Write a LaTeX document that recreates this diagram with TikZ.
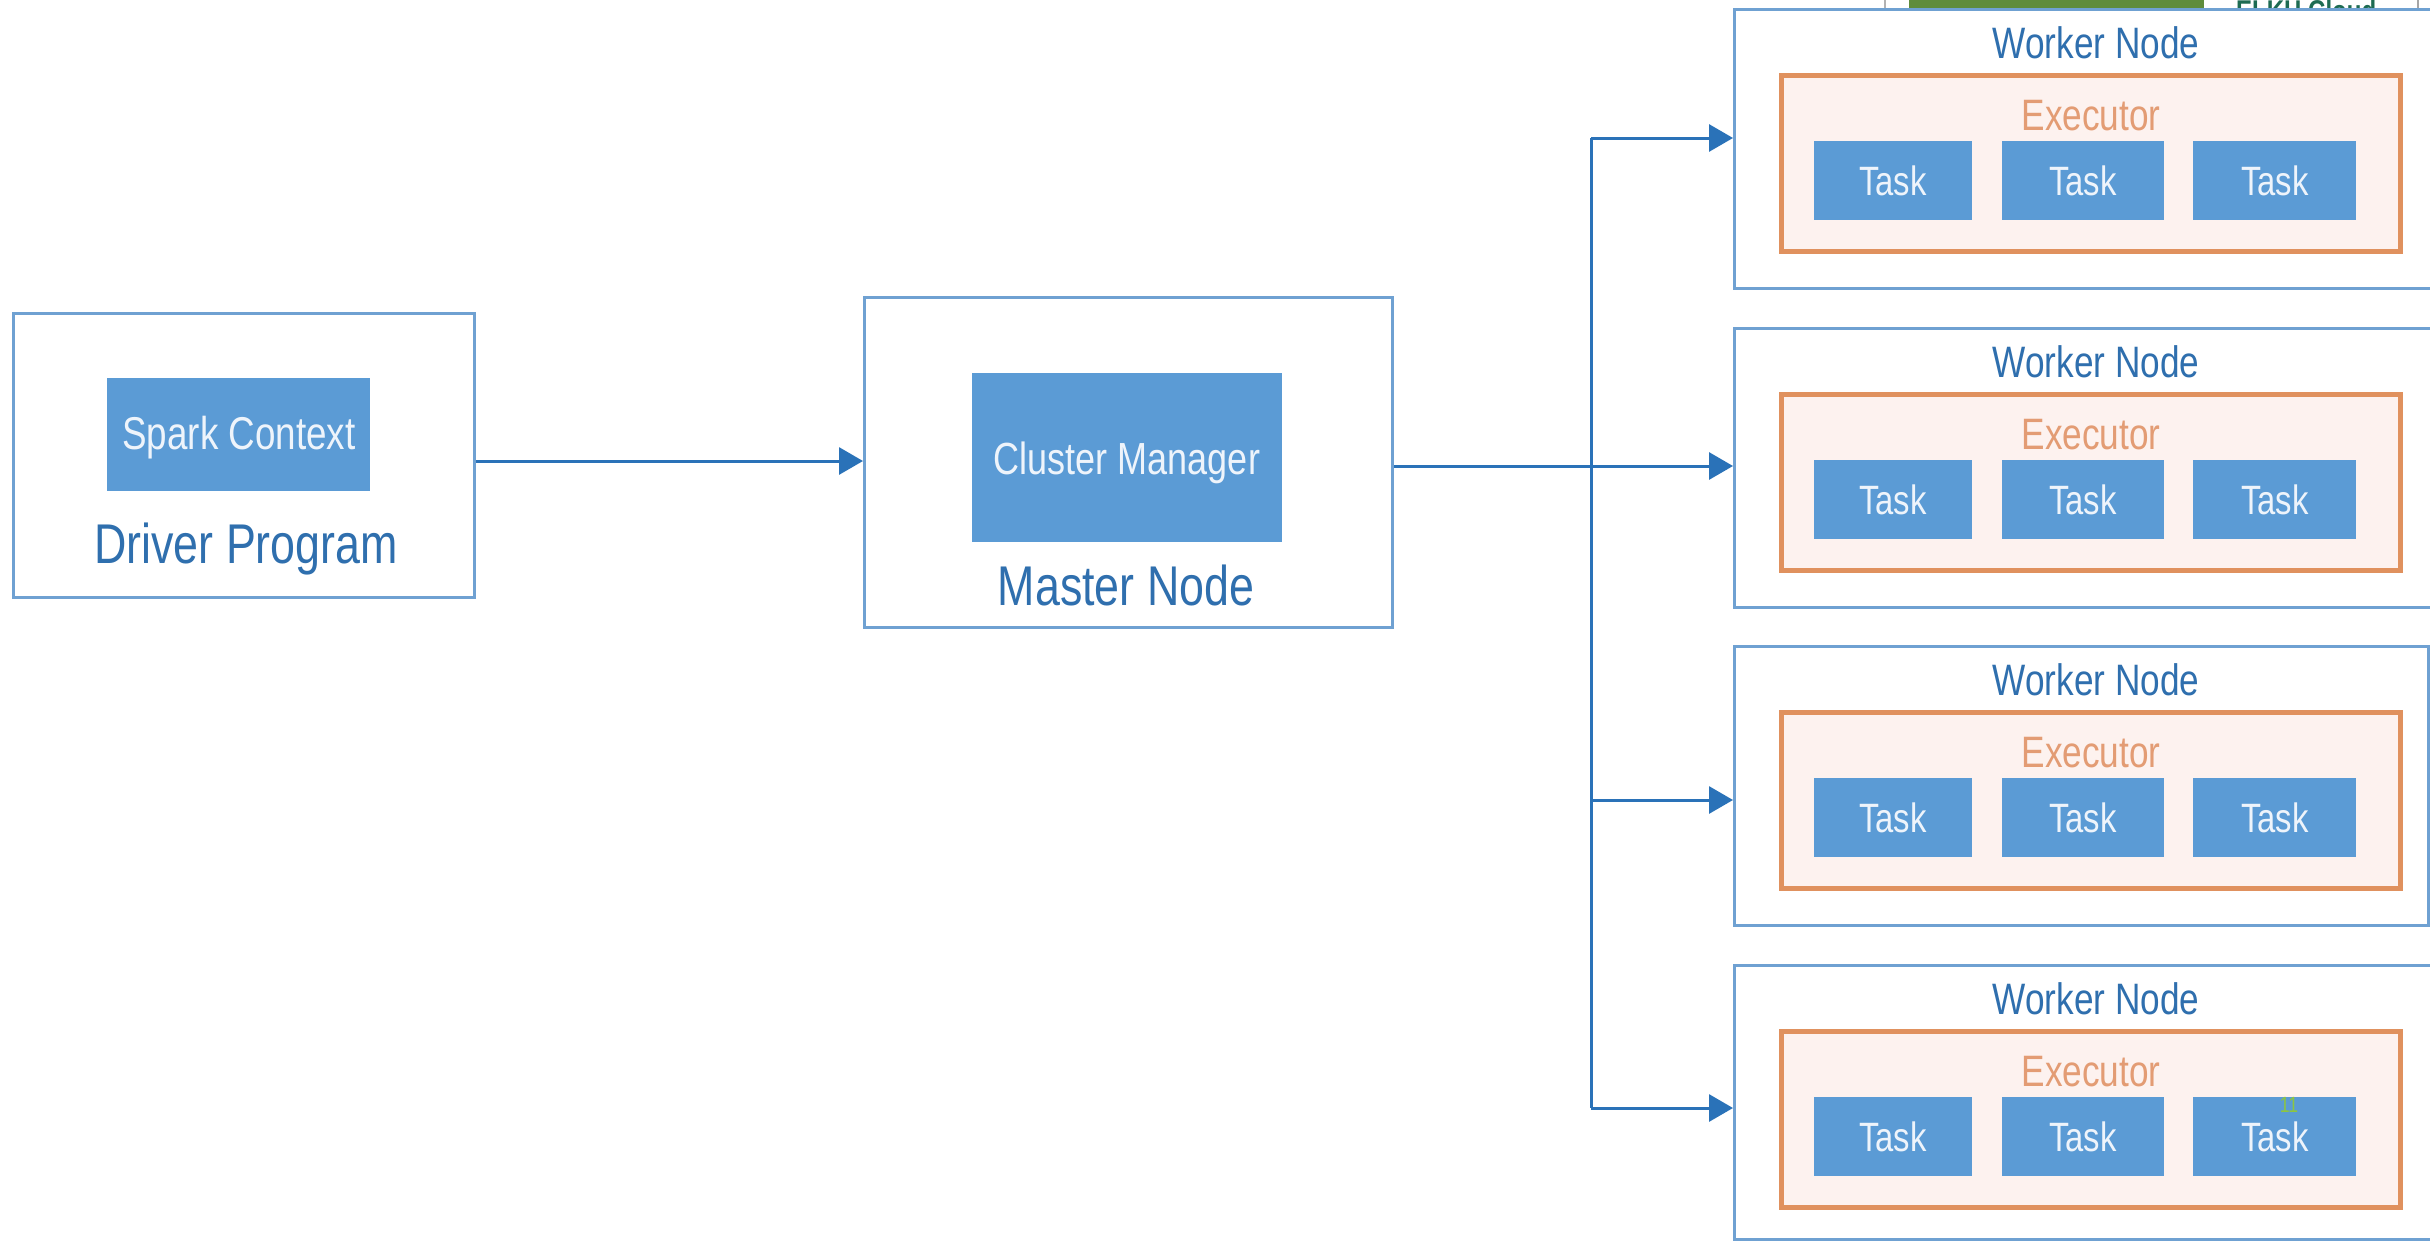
\documentclass[tikz,border=0pt]{standalone}
\usepackage{fontspec}
\setmainfont{Liberation Sans}[FakeStretch=0.8]
\usetikzlibrary{arrows.meta}
\definecolor{boxline}{HTML}{6FA1D2}
\definecolor{taskfill}{HTML}{5B9BD5}
\definecolor{darkblue}{HTML}{2F6FAE}
\definecolor{arrowblue}{HTML}{2A72B8}
\definecolor{execline}{HTML}{E0915E}
\definecolor{execfill}{HTML}{FDF2EF}
\definecolor{exectext}{HTML}{E39C74}
\definecolor{lighttext}{HTML}{EEF4FB}
\definecolor{slidegreen}{HTML}{5F8C3B}
\definecolor{elkh}{HTML}{1D6B52}
\definecolor{pagenum}{HTML}{8DC63F}
\begin{document}
\begin{tikzpicture}[x=1pt,y=-1pt,
  outerbox/.style={draw=boxline,line width=3pt,fill=white,inner sep=0pt,anchor=north west},
  bluebox/.style={fill=taskfill,inner sep=0pt,anchor=north west},
  execbox/.style={draw=execline,line width=4.5pt,fill=execfill,inner sep=0pt,anchor=north west},
  conn/.style={draw=arrowblue,line width=3pt},
  arrow/.style={conn,-{Triangle[length=24pt,width=27pt]}},
  bigtitle/.style={anchor=base,text=darkblue,inner sep=0pt,font={\fontsize{56}{60}\selectfont}},
  wtitle/.style={anchor=base,text=darkblue,inner sep=0pt,font={\fontsize{44}{48}\selectfont}},
  etitle/.style={anchor=base,text=exectext,inner sep=0pt,font={\fontsize{44}{48}\selectfont}},
  tasktext/.style={anchor=base,text=lighttext,inner sep=0pt,font={\fontsize{41}{44}\selectfont}},
  inlabel/.style={anchor=base,text=lighttext,inner sep=0pt,font={\fontsize{45}{48}\selectfont}}
]
\useasboundingbox (0,0) rectangle (2430,1242);
\fill[white] (0,0) rectangle (2430,1242);
\clip (0,0) rectangle (2430,1242);

% screenshot remnants at the top
\fill[slidegreen] (1909,0) rectangle (2204,10);
\draw[gray!60,line width=1.5pt] (1885,0) -- (1885,9);
\draw[gray!70,line width=1.5pt] (2418,0) -- (2418,9);
\node[anchor=base west,inner sep=0pt,text=elkh,font={\fontsize{30}{30}\selectfont\bfseries}] (elkh) at (2236,21) {ELKH Cloud};

% driver program
\node[outerbox,minimum width=461pt,minimum height=284pt] (driver) at (12,312) {};
\node[bluebox,minimum width=263pt,minimum height=113pt] (spark) at (107,378) {};
\node[inlabel,font={\fontsize{46}{48}\selectfont}] (sparklbl) at (239,449) {Spark Context};
\node[bigtitle] (driverlbl) at (246,563) {Driver Program};

% master node
\node[outerbox,minimum width=528pt,minimum height=330pt] (master) at (863,296) {};
\node[bluebox,minimum width=310pt,minimum height=169pt] (cm) at (972,373) {};
\node[inlabel] (cmlbl) at (1127,474) {Cluster Manager};
\node[bigtitle] (masterlbl) at (1126,605) {Master Node};

% worker nodes
\foreach \i/\t/\h/\r in {1/8/279/712, 2/327/279/712, 3/645/279/694, 4/964/274/712}{
  \node[outerbox,minimum width=\r pt,minimum height=\h pt] (w\i) at (1733,\t) {};
  \node[wtitle] (wl\i) at (2096,{\t+50}) {Worker Node};
  \node[execbox,minimum width=619pt,minimum height=176pt] (ex\i) at (1779,{\t+65}) {};
  \node[etitle] (exl\i) at (2091,{\t+122}) {Executor};
  \node[bluebox,minimum width=158pt,minimum height=79pt] (ta\i) at (1814,{\t+133}) {};
  \node[bluebox,minimum width=162pt,minimum height=79pt] (tb\i) at (2002,{\t+133}) {};
  \node[bluebox,minimum width=163pt,minimum height=79pt] (tc\i) at (2193,{\t+133}) {};
  \node[tasktext] (tal\i) at (1893,{\t+187}) {Task};
  \node[tasktext] (tbl\i) at (2083,{\t+187}) {Task};
  \node[tasktext] (tcl\i) at (2275,{\t+187}) {Task};
}

\node[anchor=base,inner sep=0pt,text=pagenum,font={\fontsize{22}{22}\selectfont}] (pg) at (2289,1112) {11};

% connectors
\coordinate (bus1) at (1591,138);
\coordinate (bus2) at (1591,466);
\coordinate (bus3) at (1591,800);
\coordinate (bus4) at (1591,1108);
\draw[arrow] (driver.east |- 0,461) -- (master.west |- 0,461);
\draw[conn] (bus1) -- (bus4);
\draw[arrow] (master.east |- bus2) -- (bus2 -| w2.west);
\draw[arrow] (bus1) -- (bus1 -| w1.west);
\draw[arrow] (bus3) -- (bus3 -| w3.west);
\draw[arrow] (bus4) -- (bus4 -| w4.west);
\end{tikzpicture}
\end{document}
